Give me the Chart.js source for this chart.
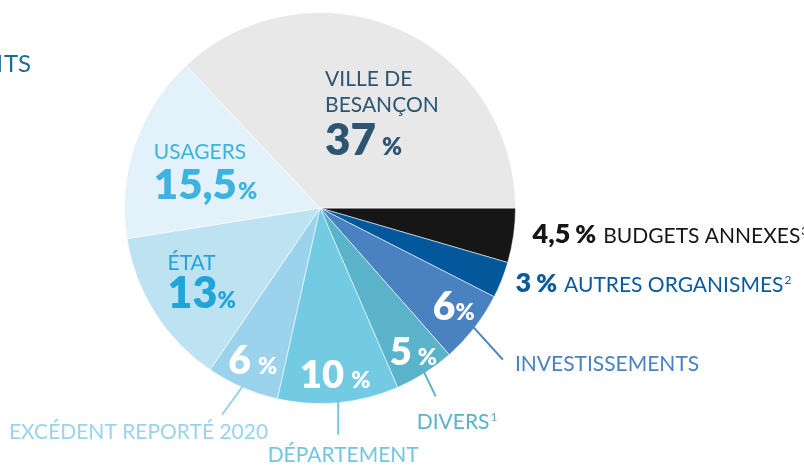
<!DOCTYPE html>
<html>
<head>
<meta charset="utf-8">
<script src="https://cdn.jsdelivr.net/npm/chart.js@4/dist/chart.umd.min.js"></script>
<style>
  html, body { margin: 0; padding: 0; background: #fff; }
  #wrap { width: 804px; height: 465px; position: relative; overflow: hidden; }
</style>
</head>
<body>
<div id="wrap"><canvas id="pie" width="804" height="465"></canvas></div>
<script>
// slices, clockwise from 3 o'clock
const categories = ['BUDGETS ANNEXES', 'AUTRES ORGANISMES', 'INVESTISSEMENTS', 'DIVERS', 'DÉPARTEMENT',
                    'EXCÉDENT REPORTÉ 2020', 'ÉTAT', 'USAGERS', 'VILLE DE BESANÇON'];
const shares = [4.5, 3, 6, 5, 10, 6, 13, 15.5, 37];
const notes = ['3', '2', '', '1', '', '', '', '', ''];
const nameLines = [null, null, null, null, null, null, ['ÉTAT'], ['USAGERS'], ['VILLE DE', 'BESANÇON']];

const sliceColors = ['#161616', '#03579b', '#4a82c1', '#5bb3c9', '#72cbe3', '#9bd3ec', '#bde3f3', '#e3f1fa', '#e8e8e8'];
const labelColors = ['#161616', '#0a5a9c', '#4a82c1', '#5bb3c9', '#72c6e0', '#9bd3ec', '#1fa5d8', '#3db4df', '#2d5470'];

const FONT = 'Lato, "DejaVu Sans", sans-serif';
const fmt = v => String(v).replace('.', ',');

function txt(ctx, s, x, y, size, weight, color, align) {
    ctx.font = `${weight} ${size}px ${FONT}`;
    ctx.fillStyle = color;
    ctx.textAlign = align || 'left';
    ctx.textBaseline = 'alphabetic';
    ctx.fillText(s, x, y);
    return ctx.measureText(s).width;
}

// number + "%" pair
function pct(ctx, i, x, y, numSize, signSize, gap, color) {
    let w = txt(ctx, fmt(shares[i]), x, y, numSize, 800, color);
    txt(ctx, '%', x + w + gap, y, signSize, 800, color);
}

// in-slice label placement, fractions of the radius from the centre
const insidePos = {
    8: { fx: 0.026, fy: -0.622, lead: 26, drop: 43, num: 44, sign: 24, gap: 6 },
    7: { fx: -0.85, fy: -0.25, lead: 0, drop: 40, num: 42, sign: 23, gap: 1 },
    6: { fx: -0.78, fy: 0.316, lead: 0, drop: 38, num: 43, sign: 22, gap: 0 },
    5: { fx: -0.469, fy: 0.847, num: 39, sign: 23, gap: 7 },
    4: { fx: -0.102, fy: 0.923, num: 38, sign: 23, gap: 7 },
    3: { fx: 0.357, fy: 0.801, num: 38, sign: 23, gap: 6 },
    2: { fx: 0.577, fy: 0.571, num: 39, sign: 23, gap: 0 }
};
// leader lines from the arc edge at mid angle
const leaders = {
    2: { dx: 30, dy: 33, tx: 12, ty: 11, align: 'left' },
    3: { dx: 12, dy: 25, tx: -19, ty: 33, align: 'left' },
    4: { dx: 0, dy: 34, tx: 5, ty: 27, align: 'center' },
    5: { dx: -21, dy: 29, tx: 46, ty: 24, align: 'right' }
};
// side labels without leader
const sidePos = {
    0: { fx: 1.087, fy: 0.179 },
    1: { fx: 1.0, fy: 0.43 }
};

const labelPlugin = {
    id: 'sliceLabels',
    afterDraw(chart) {
        const ctx = chart.ctx;
        const arcs = chart.getDatasetMeta(0).data;
        ctx.save();

        // cut-off heading at the left edge
        txt(ctx, 'N', 3, 72, 24, 400, '#1b6d92', 'right');
        txt(ctx, 'TS', 4, 72, 24, 400, '#1b6d92', 'left');

        arcs.forEach((arc, i) => {
            const p = arc.getProps(['x', 'y', 'startAngle', 'endAngle', 'outerRadius'], true);
            const R = p.outerRadius;
            const mid = (p.startAngle + p.endAngle) / 2;

            const ip = insidePos[i];
            if (ip) {
                const x = p.x + ip.fx * R, y = p.y + ip.fy * R;
                const lines = nameLines[i];
                let yy = y;
                if (lines) {
                    lines.forEach((l, k) => {
                        txt(ctx, l, x, y + k * ip.lead, 21, 400, labelColors[i]);
                        yy = y + k * ip.lead;
                    });
                    yy += ip.drop;
                }
                pct(ctx, i, x, yy, ip.num, ip.sign, ip.gap, lines ? labelColors[i] : '#ffffff');
            }

            const ld = leaders[i];
            if (ld) {
                const sx = p.x + Math.cos(mid) * (R - 2), sy = p.y + Math.sin(mid) * (R - 2);
                ctx.strokeStyle = labelColors[i];
                ctx.lineWidth = 2;
                ctx.beginPath();
                ctx.moveTo(sx, sy);
                ctx.lineTo(sx + ld.dx, sy + ld.dy);
                ctx.stroke();
                const tx = sx + ld.dx + ld.tx, ty = sy + ld.dy + ld.ty;
                const w = txt(ctx, categories[i], tx, ty, 21, 400, labelColors[i], ld.align);
                if (notes[i]) {
                    const ex = ld.align === 'left' ? tx + w : ld.align === 'center' ? tx + w / 2 : tx;
                    txt(ctx, notes[i], ex + 1, ty - 8, 12, 400, labelColors[i]);
                }
            }

            const sp = sidePos[i];
            if (sp) {
                const x = p.x + sp.fx * R, y = p.y + sp.fy * R;
                let w = txt(ctx, fmt(shares[i]), x, y, 27, 800, labelColors[i]);
                w += 5;
                w += txt(ctx, '%', x + w, y, 25, 800, labelColors[i]);
                w += 7;
                w += txt(ctx, categories[i], x + w, y, 21, 400, labelColors[i]);
                txt(ctx, notes[i], x + w + 1, y - 8, 12, 400, labelColors[i]);
            }
        });
        ctx.restore();
    }
};

new Chart(document.getElementById('pie'), {
    type: 'pie',
    data: {
        labels: categories,
        datasets: [{
            data: shares,
            backgroundColor: sliceColors,
            borderColor: 'rgba(255,255,255,0.55)',
            borderWidth: 1
        }]
    },
    options: {
        responsive: false,
        animation: false,
        rotation: 90,
        layout: { padding: { left: 124, right: 288, top: 12, bottom: 61 } },
        plugins: {
            legend: { display: false },
            tooltip: { enabled: false }
        }
    },
    plugins: [labelPlugin]
});
</script>
</body>
</html>
